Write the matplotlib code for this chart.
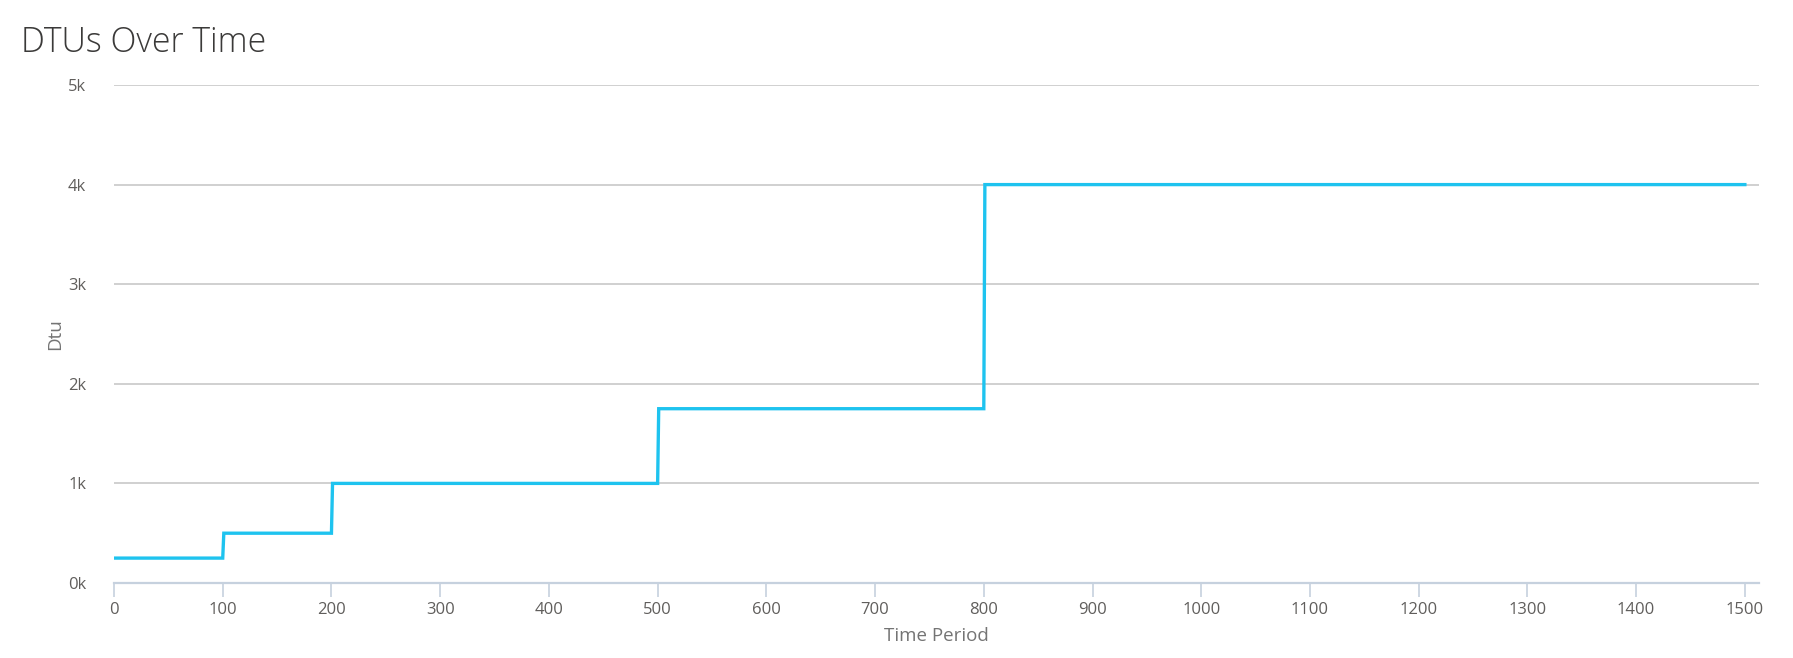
import matplotlib
matplotlib.use("Agg")
import matplotlib.pyplot as plt
from matplotlib.ticker import FuncFormatter

# Data (step series)
time_period = [0, 100, 101, 200, 201, 500, 501, 800, 801, 1500]
dtu = [250, 250, 500, 500, 1000, 1000, 1750, 1750, 4000, 4000]
x_ticks = list(range(0, 1501, 100))
y_ticks = [0, 1000, 2000, 3000, 4000, 5000]

plt.rcParams['font.family'] = ['Open Sans', 'DejaVu Sans']

fig = plt.figure(figsize=(17.93, 6.58), dpi=100)
ax = fig.add_axes([114/1793, 75/658, (1759-114)/1793, (583-85)/658])

ax.plot(time_period, dtu, color='#1ec3ef', linewidth=2.4, solid_joinstyle='miter', zorder=3)

ax.set_xlim(0, 1513)
ax.set_ylim(0, 5000)
ax.set_xticks(x_ticks)
ax.set_yticks(y_ticks)
ax.yaxis.set_major_formatter(FuncFormatter(lambda v, p: f"{int(v/1000)}k"))

for s in ['top', 'right', 'left']:
    ax.spines[s].set_visible(False)
ax.spines['bottom'].set_color('#c6d1de')
ax.spines['bottom'].set_linewidth(1.6)

ax.grid(axis='y', color='#c4c4c4', linewidth=1.1)
ax.set_axisbelow(True)
ax.tick_params(axis='x', length=10, width=1.2, color='#c6d1de', labelsize=12, labelcolor='#605e5c', pad=4)
ax.tick_params(axis='y', length=0, labelsize=12, labelcolor='#605e5c', pad=20)

ax.set_xlabel('Time Period', fontsize=13.5, color='#747474', labelpad=6)
ax.set_ylabel('Dtu', fontsize=13.5, color='#747474', labelpad=3)

fig.text(21/1793, 1 - 52/658, 'DTUs Over Time', fontsize=24.4, color='#3b3a39',
         fontweight='light', ha='left', va='baseline')

fig.savefig('out.png', dpi=100)
